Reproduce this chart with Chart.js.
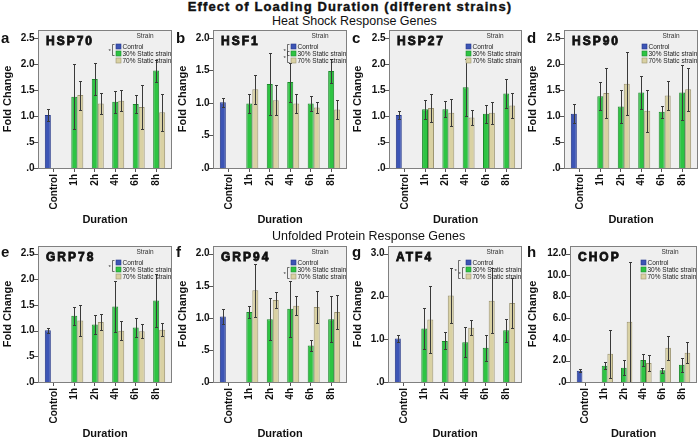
<!DOCTYPE html>
<html lang="en">
<head>
<meta charset="UTF-8">
<title>Effect of Loading Duration (different strains)</title>
<style>
    body { margin: 0; background: #fff; font-family: 'Liberation Sans', Arial, sans-serif; }
    #page { position: relative; width: 700px; height: 438px; overflow: hidden; }
    canvas { position: absolute; }
    .txt { position: absolute; white-space: nowrap; color: #111; z-index: 5; }
    #title { left: 0; top: 0; width: 700px; text-align: center; font-size: 13px; line-height: 13px;
             font-weight: bold; letter-spacing: 1.1px; -webkit-text-stroke: 0.4px #111; }
    .sub { left: 272px; font-size: 12.5px; line-height: 12.5px; }
</style>
</head>
<body>
<div id="page">
    <div id="title" class="txt">Effect of Loading Duration (different strains)</div>
    <div class="txt sub" style="top:15px">Heat Shock Response Genes</div>
    <div class="txt sub" style="top:230px">Unfolded Protein Response Genes</div>
</div>

<script src="https://cdn.jsdelivr.net/npm/chart.js"></script>
<script>
    // categories and groups
    const durations = ['Control', '1h', '2h', '4h', '6h', '8h'];
    const strains = ['Control', '30% Static strain', '70% Static strain'];
    const genes = ['HSP70', 'HSF1', 'HSP27', 'HSP90', 'GRP78', 'GRP94', 'ATF4', 'CHOP'];
    const letters = ['a', 'b', 'c', 'd', 'e', 'f', 'g', 'h'];

    // control group (one value per gene)
    const controlMean = [1.02, 1.01, 1.02, 1.04, 1.01, 1.02, 1.02, 1.06];
    const controlErr  = [0.12, 0.07, 0.08, 0.18, 0.05, 0.12, 0.08, 0.15];

    // 30% static strain, 1h 2h 4h 6h 8h, one row per gene
    const mean30 = [
        [1.37, 1.71, 1.27, 1.23, 1.87],
        [0.99, 1.29, 1.32, 0.99, 1.49],
        [1.13, 1.13, 1.55, 1.04, 1.43],
        [1.38, 1.18, 1.45, 1.08, 1.45],
        [1.29, 1.12, 1.47, 1.06, 1.59],
        [1.09, 0.98, 1.14, 0.57, 0.98],
        [1.25, 0.96, 0.93, 0.80, 1.21],
        [1.53, 1.34, 2.06, 1.09, 1.62]
    ];
    const err30 = [
        [0.62, 0.30, 0.21, 0.17, 0.21],
        [0.15, 0.48, 0.30, 0.11, 0.19],
        [0.18, 0.15, 0.55, 0.17, 0.27],
        [0.27, 0.32, 0.31, 0.12, 0.52],
        [0.18, 0.18, 0.49, 0.18, 0.51],
        [0.10, 0.33, 0.44, 0.09, 0.36],
        [0.47, 0.20, 0.35, 0.31, 0.27],
        [0.36, 0.68, 0.58, 0.22, 0.66]
    ];

    // 70% static strain
    const mean70 = [
        [1.40, 1.24, 1.29, 1.17, 1.07],
        [1.21, 1.04, 0.99, 0.93, 0.90],
        [1.15, 1.06, 0.97, 1.06, 1.20],
        [1.44, 1.62, 1.10, 1.39, 1.51],
        [1.20, 1.17, 1.00, 0.99, 1.02],
        [1.43, 1.28, 1.19, 1.17, 1.09],
        [1.46, 2.02, 1.27, 1.90, 1.85],
        [2.65, 5.64, 1.78, 3.21, 2.74]
    ];
    const err70 = [
        [0.28, 0.20, 0.20, 0.43, 0.36],
        [0.22, 0.23, 0.15, 0.08, 0.15],
        [0.27, 0.26, 0.14, 0.21, 0.24],
        [0.48, 0.61, 0.40, 0.28, 0.41],
        [0.31, 0.15, 0.18, 0.14, 0.13],
        [0.41, 0.13, 0.15, 0.25, 0.26],
        [0.79, 0.64, 0.18, 0.76, 0.58],
        [2.24, 5.60, 0.73, 1.13, 0.98]
    ];

    // y axis: top tick and step per gene
    const yTopTick = [2.5, 2.0, 2.5, 2.5, 2.5, 2.0, 3.0, 12.0];
    const yStep    = [0.5, 0.5, 0.5, 0.5, 0.5, 0.5, 1.0, 2.0];

    // significance brackets next to the legend rows: [fromRow, toRow, level]
    const sigBrackets = [
        [[0, 1, 0]],
        [[0, 1, 0], [1, 2, 0]],
        [],
        [],
        [[0, 1, 0]],
        [[1, 2, 0]],
        [[0, 2, 1], [1, 2, 0]],
        []
    ];

    const fills   = ['#3d55b5', '#2ec443', '#d9d1a3'];
    const borders = ['#24378a', '#1c8a2b', '#9c9470'];
    const EX = 5.6; // frame extends beyond the category area on each side

    // panel geometry (canvas coords)
    const colX = [0, 175, 350, 525];
    const rowY = [28, 242];
    const rowPadTop = [2, 4];
    const frameLeft  = [38, 38, 39, 39, 38, 38, 38, 45];
    const frameRight = [172, 172, 172, 173, 172, 172, 172, 172];

    Chart.defaults.font.family = "'Liberation Sans', Arial, sans-serif";
    Chart.defaults.color = '#111';

    function fmtTick(v) {
        return v.toFixed(1).replace(/^0/, '');
    }

    const deco = {
        id: 'deco',
        beforeDraw(chart, args, o) {
            const { ctx, chartArea: a } = chart;
            ctx.save();
            ctx.fillStyle = '#efefef';
            ctx.fillRect(a.left - EX, a.top, a.right - a.left + 2 * EX, a.bottom - a.top);
            ctx.restore();
        },
        afterDatasetsDraw(chart) {
            const { ctx } = chart;
            const y = chart.scales.y;
            ctx.save();
            ctx.strokeStyle = '#3a3a3a';
            ctx.lineWidth = 1;
            chart.data.datasets.forEach((ds, i) => {
                const meta = chart.getDatasetMeta(i);
                meta.data.forEach((bar, j) => {
                    const v = ds.data[j];
                    if (v == null) return;
                    const e = ds.errors[j];
                    const hi = Math.round(y.getPixelForValue(v + e)) + 0.5;
                    const lo = Math.round(y.getPixelForValue(Math.max(v - e, 0))) + 0.5;
                    const x = Math.round(bar.x) + 0.5;
                    ctx.beginPath();
                    ctx.moveTo(x, hi); ctx.lineTo(x, lo);
                    ctx.moveTo(x - 1.5, hi); ctx.lineTo(x + 1.5, hi);
                    ctx.moveTo(x - 1.5, lo); ctx.lineTo(x + 1.5, lo);
                    ctx.stroke();
                });
            });
            ctx.restore();
        },
        afterDraw(chart, args, o) {
            const { ctx, chartArea: a } = chart;
            const left = a.left - EX, right = a.right + EX;
            ctx.save();
            // frame
            ctx.strokeStyle = '#808080';
            ctx.lineWidth = 1;
            ctx.strokeRect(Math.round(left) + 0.5, Math.round(a.top) + 0.5,
                Math.round(right - left) - 1, Math.round(a.bottom - a.top));
            // y tick marks
            ctx.strokeStyle = '#555';
            chart.scales.y.ticks.forEach(t => {
                const py = Math.round(chart.scales.y.getPixelForValue(t.value)) + 0.5;
                ctx.beginPath();
                ctx.moveTo(Math.round(left) - 4, py);
                ctx.lineTo(Math.round(left), py);
                ctx.stroke();
            });
            // gene name
            ctx.fillStyle = '#111';
            ctx.strokeStyle = '#111';
            ctx.font = "bold 12px 'Liberation Sans'";
            ctx.letterSpacing = '2px';
            ctx.textBaseline = 'alphabetic';
            ctx.fillText(o.gene, left + 8, a.top + 14.5);
            ctx.lineWidth = 0.8;
            ctx.strokeText(o.gene, left + 8, a.top + 14.5);
            ctx.letterSpacing = '0px';
            // panel letter
            ctx.font = "bold 15px 'Liberation Sans'";
            ctx.fillText(o.letter, o.letterX, 15);
            // legend
            const lx = right - 56;
            ctx.font = "6.5px 'Liberation Sans'";
            ctx.textAlign = 'center';
            ctx.textBaseline = 'middle';
            ctx.fillStyle = '#333';
            ctx.fillText('Strain', right - 27, a.top + 6.5);
            ctx.textAlign = 'left';
            const rowY0 = a.top + 16.5;
            chart.data.datasets.forEach((ds, i) => {
                const ry = rowY0 + i * 7;
                ctx.fillStyle = ds.backgroundColor;
                ctx.fillRect(lx, ry - 2.5, 5, 5);
                ctx.strokeStyle = ds.borderColor;
                ctx.lineWidth = 0.6;
                ctx.strokeRect(lx, ry - 2.5, 5, 5);
                ctx.fillStyle = '#222';
                ctx.fillText(ds.label, lx + 6.5, ry + 0.5);
            });
            // significance brackets
            ctx.strokeStyle = '#333';
            ctx.lineWidth = 0.7;
            o.brackets.forEach(([r0, r1, lvl]) => {
                const bx = lx - 3.5 - lvl * 4;
                const y0 = rowY0 + r0 * 7 - 2, y1 = rowY0 + r1 * 7 + 2;
                ctx.beginPath();
                ctx.moveTo(bx + 2, y0); ctx.lineTo(bx, y0); ctx.lineTo(bx, y1); ctx.lineTo(bx + 2, y1);
                ctx.stroke();
                ctx.fillStyle = '#333';
                ctx.font = "6px 'Liberation Sans'";
                ctx.fillText('*', bx - 4, (y0 + y1) / 2 + 1.5);
            });
            ctx.restore();
        }
    };

    const page = document.getElementById('page');

    genes.forEach((gene, g) => {
        const col = g % 4, row = Math.floor(g / 4);
        const W = 175, H = 199;
        const cv = document.createElement('canvas');
        cv.width = W; cv.height = H;
        cv.style.left = colX[col] + 'px';
        cv.style.top = rowY[row] + 'px';
        page.appendChild(cv);

        const ctrlData = [controlMean[g], null, null, null, null, null];
        const ctrlErrs = [controlErr[g], 0, 0, 0, 0, 0];
        const d30 = [null].concat(mean30[g]);
        const e30 = [0].concat(err30[g]);
        const d70 = [null].concat(mean70[g]);
        const e70 = [0].concat(err70[g]);

        const fl = frameLeft[g], fr = frameRight[g];

        new Chart(cv, {
            type: 'bar',
            data: {
                labels: durations,
                datasets: [
                    { label: strains[0], data: ctrlData, errors: ctrlErrs, backgroundColor: fills[0], borderColor: borders[0], borderWidth: 1 },
                    { label: strains[1], data: d30, errors: e30, backgroundColor: fills[1], borderColor: borders[1], borderWidth: 1 },
                    { label: strains[2], data: d70, errors: e70, backgroundColor: fills[2], borderColor: borders[2], borderWidth: 1 }
                ]
            },
            options: {
                responsive: false,
                animation: false,
                events: [],
                layout: { padding: { top: rowPadTop[row], right: W - (fr - EX), left: 0, bottom: 0 } },
                datasets: { bar: { categoryPercentage: 0.88, barPercentage: 1 } },
                plugins: {
                    legend: { display: false },
                    tooltip: { enabled: false },
                    deco: { gene: gene, letter: letters[g], letterX: col < 2 ? 1 : 2, brackets: sigBrackets[g] }
                },
                scales: {
                    x: {
                        grid: { display: true, drawOnChartArea: false, drawTicks: true, tickLength: 4, offset: false, color: '#555' },
                        border: { display: false },
                        ticks: { autoSkip: false, minRotation: 90, maxRotation: 90, padding: 2,
                                 font: { size: 10, weight: 'bold' } },
                        title: { display: true, text: 'Duration', padding: 0, font: { size: 11, weight: 'bold' } },
                        afterFit(s) { s.height = 59; s.paddingLeft = 0; s.paddingRight = 0; }
                    },
                    y: {
                        min: 0,
                        max: yTopTick[g] * 1.06,
                        grid: { display: false, drawTicks: false },
                        border: { display: false },
                        ticks: { stepSize: yStep[g], includeBounds: false, padding: 9,
                                 font: { size: 10, weight: 'bold' },
                                 callback: v => fmtTick(v) },
                        title: { display: true, text: 'Fold Change', padding: { top: 1.5, bottom: 0 },
                                 font: { size: 11, weight: 'bold' } },
                        afterFit(s) { s.width = fl + EX; s.paddingTop = 0; s.paddingBottom = 0; }
                    }
                }
            },
            plugins: [deco]
        });
    });
</script>
</body>
</html>
